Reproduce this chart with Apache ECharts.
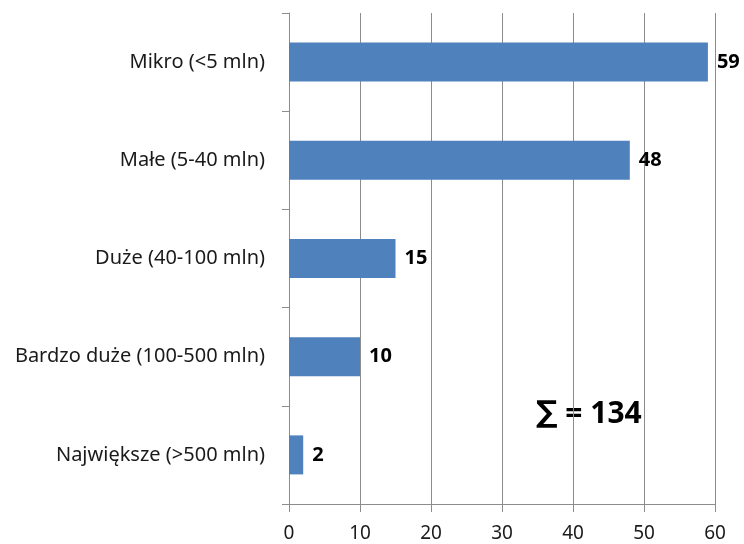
<!DOCTYPE html>
<html><head><meta charset="utf-8">
<script src="https://cdn.jsdelivr.net/npm/echarts@6/dist/echarts.min.js"></script>
<style>html,body{margin:0;padding:0;background:#fff}#c{width:744px;height:544px}</style>
</head><body><div id="c"></div>
<script>
const categories = ["Mikro (<5 mln)", "Małe (5-40 mln)", "Duże (40-100 mln)", "Bardzo duże (100-500 mln)", "Największe (>500 mln)"];
const values = [59, 48, 15, 10, 2];
const totalSymbol = "∑";
const totalText = " = 134";
const xTicks = [0, 10, 20, 30, 40, 50, 60];

const chart = echarts.init(document.getElementById('c'));
chart.setOption({
  animation: false,
  grid: { left: 289, right: 29, top: 13, bottom: 40, containLabel: false },
  xAxis: {
    type: 'value', min: xTicks[0], max: xTicks[xTicks.length - 1], interval: 10,
    axisLine: { show: true, lineStyle: { color: '#8c8c8c', width: 1 } },
    axisTick: { show: true, length: 8, lineStyle: { color: '#8c8c8c' } },
    splitLine: { show: true, lineStyle: { color: '#8c8c8c', width: 1 } },
    axisLabel: { color: '#1a1a1a', fontFamily: 'Noto Sans', fontSize: 19, margin: 20 }
  },
  yAxis: {
    type: 'category', data: categories, inverse: true,
    axisLine: { show: true, lineStyle: { color: '#8c8c8c', width: 1 } },
    axisTick: { show: true, length: 7, lineStyle: { color: '#8c8c8c' } },
    axisLabel: { color: '#1a1a1a', fontFamily: 'Noto Sans', fontSize: 20, margin: 24 }
  },
  series: [{
    type: 'bar', data: values, barWidth: 39,
    itemStyle: { color: '#4F81BD' },
    label: { show: true, position: 'right', distance: 9, color: '#000', fontFamily: 'Noto Sans', fontWeight: 'bold', fontSize: 20 }
  }],
  graphic: [{
    type: 'text', left: 536, top: 399,
    style: {
      text: '{s|' + totalSymbol + '}{t|' + totalText + '}',
      rich: {
        s: { fill: '#000', fontFamily: 'DejaVu Sans', fontWeight: 'bold', fontSize: 30, lineHeight: 40, verticalAlign: 'middle' },
        t: { fill: '#000', fontFamily: 'Noto Sans', fontWeight: 'bold', fontSize: 30, lineHeight: 40, verticalAlign: 'middle' }
      }
    }
  }]
});
</script></body></html>
